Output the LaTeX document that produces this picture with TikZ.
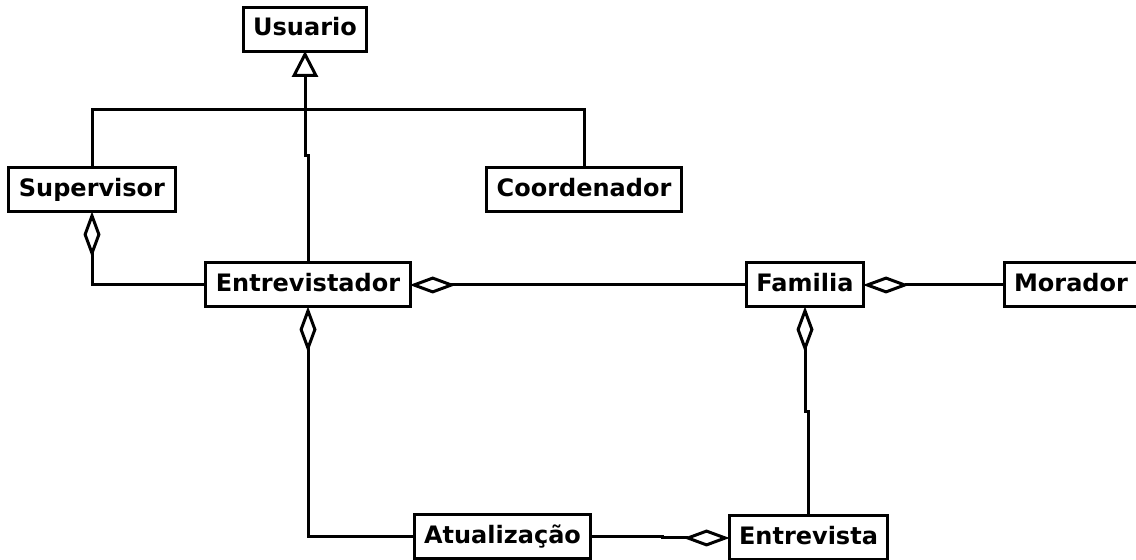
\documentclass[tikz,border=0pt]{standalone}
\usepackage{fontspec}
\setmainfont{DejaVu Sans}
\usetikzlibrary{arrows.meta,positioning}

\tikzset{
    cls/.style={draw, line width=1.5pt, font=\bfseries\fontsize{12}{14}\selectfont,
        inner xsep=5pt, minimum height=22pt, text height=9pt, text depth=2.5pt},
    lnk/.style={line width=1.5pt},
    agg/.style={lnk, shorten >=-1pt, -{Diamond[open, length=23pt, width=8.5pt]}},
    gen/.style={lnk, shorten >=-1pt, -{Triangle[open, length=13pt, width=13pt]}}
}

\begin{document}
\begin{tikzpicture}[x=0.5pt, y=-0.5pt]
    \useasboundingbox (0,0) rectangle (1136,560);

    % Classes
    \node[cls] (usu) at (305,29.5) {Usuario};
    \node[cls] (sup) at (92,190) {Supervisor};
    \node[cls] (coo) at (584,190) {Coordenador};
    \node[cls] (ent) at (308,285) {Entrevistador};
    \node[cls] (fam) at (805,285) {Familia};
    \node[cls] (mor) at (1071,285) {Morador};
    \node[cls] (atu) at (502.5,537) {Atualização};
    \node[cls] (eta) at (808.5,538) {Entrevista};

    % Generalization
    \coordinate (hub) at (305,110);
    \draw[gen] (hub) -- (usu.south);
    \draw[lnk] (sup.north) |- (hub) -| (coo.north);
    \draw[lnk] (ent.north) -- ++(0,-106) -- ++(-3,0) -- (hub);

    % Aggregations
    \draw[agg] (ent.west) -| (sup.south);
    \draw[agg] (fam.west) -- (ent.east);
    \draw[agg] (mor.west) -- (fam.east);
    \draw[agg] (eta.north) -- ++(0,-103) -| (fam.south);
    \draw[agg] (atu.west) -| (ent.south);
    \draw[agg] (atu.east) -- ++(70,0) |- (eta.west);
\end{tikzpicture}
\end{document}
